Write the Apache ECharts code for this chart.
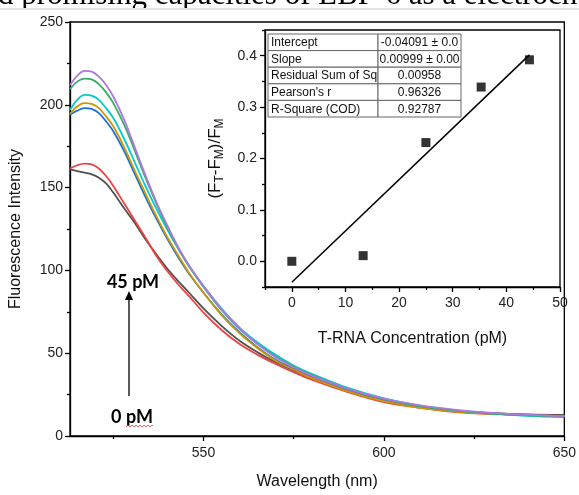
<!DOCTYPE html>
<html>
<head>
<meta charset="utf-8">
<style>
  html, body { margin: 0; padding: 0; background: #fff; }
  #chart { width: 579px; height: 495px; }
</style>
<script src="https://cdn.jsdelivr.net/npm/echarts@6/dist/echarts.min.js"></script>
</head>
<body>
<div id="chart"></div>
<script>
// Emission spectra, sampled wavelengths (nm)
const wavelengths = [513, 515, 517, 519, 521, 523, 525, 528, 531, 534, 537, 540, 543, 546, 550, 555, 560, 565, 570, 575, 580, 590, 600, 610, 620, 630, 640, 650];

// Fluorescence intensity, one array per T-RNA concentration (low -> high)
const spectrum0  = [161, 160, 159, 158, 156, 152.5, 147, 137.5, 128.5, 118.5, 109.5, 101, 93.5, 86.5, 77, 66.5, 57.5, 50.5, 44.5, 39.5, 35.2, 27.5, 21.5, 17.5, 15, 13.8, 13.1, 12.8];
const spectrum1  = [161.5, 163.5, 164.5, 164, 161.5, 157, 151, 140.5, 130, 119.5, 108.5, 99.5, 91.5, 84.5, 74.5, 64, 55.5, 49, 43.5, 38.5, 34, 26.5, 20.5, 17, 14.5, 13.3, 12.6, 12.2];
const spectrum2  = [194, 196.5, 198, 197.5, 195, 190, 184, 172, 158, 144, 131, 119, 108, 98, 86.5, 73.5, 62.5, 53.5, 46, 40.5, 35.5, 27.5, 21.5, 17.5, 15, 13.5, 12.6, 12];
const spectrum3  = [194.5, 199, 201, 200.5, 198, 193, 187, 174.5, 160, 146, 132.5, 120, 109, 98.5, 86.5, 73, 62, 53, 45.5, 40, 35, 27, 21, 17, 14.8, 13.3, 12.5, 12];
const spectrum4  = [197, 203, 206, 205.5, 203, 198, 192, 179.5, 165, 150.5, 137, 124.5, 113, 102.5, 90.5, 77, 65.5, 56.5, 49, 42.5, 37.5, 29, 22.7, 18.3, 15.5, 13.5, 12.2, 11.4];
const spectrum5  = [209.5, 214, 215.8, 215.3, 212.5, 207.5, 201, 188, 172, 155.5, 140, 126, 113.5, 102.5, 90, 76, 64.5, 55.5, 48, 42, 37, 28.5, 22.3, 18, 15.3, 13.5, 12.4, 11.8];
const spectrum6  = [212, 217.5, 220.5, 220, 217, 212, 205, 191, 174, 157, 141, 127, 114, 103, 90.5, 76.5, 65, 55.5, 47.5, 41.5, 36.5, 28.5, 22.5, 18.5, 15.8, 14, 12.8, 12];
const spectra = [spectrum0, spectrum1, spectrum2, spectrum3, spectrum4, spectrum5, spectrum6];
const spectrumColors = ['#515151', '#F14040', '#1A6FDF', '#CC9900', '#00CBCC', '#37AD6B', '#B177DE'];

// Calibration: relative change vs. T-RNA concentration
const concentrations = [0, 13.3, 25, 35.3, 44.3];
const responses = [0.0, 0.011, 0.231, 0.339, 0.392];

// Linear fit results
const fitIntercept = -0.04091;
const fitSlope = 0.00999;
const fitRange = [0, 44.3];
const tableLabels = ['Intercept', 'Slope', 'Residual Sum of Sq', "Pearson's r", 'R-Square (COD)'];
const tableValues = ['-0.04091 \u00b1 0.0', '0.00999 \u00b1 0.00', '0.00958', '0.96326', '0.92787'];

// Tick labels
const mainXTicks = [550, 600, 650];
const mainXMinor = [525, 575, 625];
const insetXTicks = [0, 10, 20, 30, 40, 50];
const insetXMinor = [-5, 5, 15, 25, 35, 45];
const insetYTicks = [0, 0.1, 0.2, 0.3, 0.4];
const insetYMinor = [-0.05, 0.05, 0.15, 0.25, 0.35, 0.45];

const FONT = 'Liberation Sans, Arial, sans-serif';
const chart = echarts.init(document.getElementById('chart'), null, { renderer: 'canvas' });

const axisLineStyle = { color: '#000', width: 1.3 };
function valueAxis(extra) {
  return Object.assign({
    type: 'value',
    splitLine: { show: false },
    axisLine: { show: true, onZero: false, lineStyle: axisLineStyle },
    axisTick: { show: true, length: 5, lineStyle: axisLineStyle },
    axisLabel: { color: '#222', fontSize: 14, fontFamily: FONT, margin: 7 },
    nameTextStyle: { color: '#111', fontSize: 16, fontFamily: FONT }
  }, extra);
}
function minorAxis(extra, values) {
  return Object.assign({
    type: 'value',
    splitLine: { show: false },
    axisLine: { show: false, onZero: false },
    axisTick: { show: true, length: 3, customValues: values, lineStyle: axisLineStyle },
    axisLabel: { show: false }
  }, extra);
}

// Table cells for the fit summary
const tableLeft = 268, tableTop = 34, rowH = 16.6, col1W = 110, col2W = 83;
const tableGraphics = [];
tableLabels.forEach((label, i) => {
  const y = tableTop + i * rowH;
  tableGraphics.push({
    type: 'rect', shape: { x: tableLeft, y: y, width: col1W, height: rowH },
    style: { fill: '#fff', stroke: '#666', lineWidth: 1 }, z: 10
  });
  tableGraphics.push({
    type: 'rect', shape: { x: tableLeft + col1W, y: y, width: col2W, height: rowH },
    style: { fill: '#fff', stroke: '#666', lineWidth: 1 }, z: 10
  });
  tableGraphics.push({
    type: 'text', x: tableLeft + 3, y: y + rowH / 2 + 0.5, z: 11,
    style: { text: label, fill: '#111', font: '12px ' + FONT, textAlign: 'left', textVerticalAlign: 'middle' }
  });
  tableGraphics.push({
    type: 'text', x: tableLeft + col1W + col2W / 2, y: y + rowH / 2 + 0.5, z: 11,
    style: { text: tableValues[i], fill: '#111', font: '12px ' + FONT, textAlign: 'center', textVerticalAlign: 'middle' }
  });
});

const option = {
  animation: false,
  backgroundColor: '#fff',
  grid: [
    { left: 69, right: 12, top: 22, bottom: 54, show: true, borderColor: '#000', borderWidth: 1.3, containLabel: false },
    { left: 265, top: 30, width: 295, height: 257, show: true, borderColor: '#000', borderWidth: 1.3, containLabel: false }
  ],
  xAxis: [
    valueAxis({
      gridIndex: 0, min: 513, max: 650,
      axisTick: { show: true, length: 5, customValues: mainXTicks, lineStyle: axisLineStyle },
      axisLabel: { color: '#222', fontSize: 14, fontFamily: FONT, margin: 10, customValues: mainXTicks },
      name: 'Wavelength (nm)', nameLocation: 'middle', nameGap: 38
    }),
    minorAxis({ gridIndex: 0, min: 513, max: 650, position: 'bottom' }, mainXMinor),
    valueAxis({
      gridIndex: 1, min: -5, max: 50,
      axisTick: { show: true, length: 5, customValues: insetXTicks, lineStyle: axisLineStyle },
      axisLabel: { color: '#222', fontSize: 14, fontFamily: FONT, margin: 9, customValues: insetXTicks },
      name: 'T-RNA Concentration (pM)', nameLocation: 'middle', nameGap: 44
    }),
    minorAxis({ gridIndex: 1, min: -5, max: 50, position: 'bottom' }, insetXMinor)
  ],
  yAxis: [
    valueAxis({
      gridIndex: 0, min: 0, max: 250, interval: 50,
      minorTick: { show: true, splitNumber: 2, length: 3, lineStyle: axisLineStyle },
      name: 'Fluorescence Intensity', nameLocation: 'middle', nameGap: 46
    }),
    valueAxis({
      gridIndex: 1, min: -0.05, max: 0.45,
      axisTick: { show: true, length: 5, customValues: insetYTicks, lineStyle: axisLineStyle },
      axisLabel: {
        color: '#222', fontSize: 14, fontFamily: FONT, margin: 8, customValues: insetYTicks,
        formatter: v => v.toFixed(1)
      },
      name: '(F{s|T}-F{s|M})/F{s|M}', nameLocation: 'middle', nameGap: 37, nameRotate: 90,
      nameTextStyle: {
        color: '#111', fontSize: 17, fontFamily: FONT, lineHeight: 22,
        rich: { s: { fontSize: 12, fontFamily: FONT, color: '#111', lineHeight: 22, padding: [8, 0, 0, 0] } }
      }
    }),
    minorAxis({ gridIndex: 1, min: -0.05, max: 0.45, position: 'left' }, insetYMinor)
  ],
  series: [
    ...spectra.map((vals, i) => ({
      type: 'line', xAxisIndex: 0, yAxisIndex: 0,
      data: wavelengths.map((w, j) => [w, vals[j]]),
      smooth: 0.35, showSymbol: false,
      lineStyle: { color: spectrumColors[i], width: 1.8 },
      z: 2
    })),
    {
      type: 'line', xAxisIndex: 2, yAxisIndex: 1,
      data: fitRange.map(x => [x, fitIntercept + fitSlope * x]),
      showSymbol: false,
      lineStyle: { color: '#000', width: 1.5 },
      z: 3
    },
    {
      type: 'scatter', xAxisIndex: 2, yAxisIndex: 1,
      data: concentrations.map((c, i) => [c, responses[i]]),
      symbol: 'rect', symbolSize: 9,
      itemStyle: { color: '#000' },
      z: 4
    }
  ],
  graphic: [
    // running page text above the figure
    {
      type: 'text', x: -2, y: 11, z: 20,
      style: { text: 'd promising capacities of LBP-6 as a electroche', fill: '#000', font: '31px Liberation Serif, serif', textVerticalAlign: 'bottom' }
    },
    {
      type: 'rect', shape: { x: 0, y: 8, width: 579, height: 2 }, z: 21,
      style: { fill: '#e4e4e4' }
    },
    {
      type: 'rect', shape: { x: 0, y: 10, width: 579, height: 3 }, z: 21,
      style: { fill: '#fff' }
    },
    // concentration arrow
    {
      type: 'line', shape: { x1: 129, y1: 396, x2: 129, y2: 298 }, z: 12,
      style: { stroke: '#000', lineWidth: 1.3 }
    },
    {
      type: 'polygon', shape: { points: [[129, 291], [125, 300], [133, 300]] }, z: 12,
      style: { fill: '#000' }
    },
    {
      type: 'text', x: 133, y: 282, z: 12,
      style: { text: '45 pM', fill: '#000', font: 'bold 18px Lato, sans-serif', textAlign: 'center', textVerticalAlign: 'middle' }
    },
    {
      type: 'text', x: 132, y: 417, z: 12,
      style: { text: '0 pM', fill: '#000', font: 'bold 18px Lato, sans-serif', textAlign: 'center', textVerticalAlign: 'middle' }
    },
    {
      type: 'polyline', z: 12,
      shape: { points: [[126, 427], [128, 425], [130, 427], [132, 425], [134, 427], [136, 425], [138, 427], [140, 425], [142, 427], [144, 425], [146, 427], [148, 425], [150, 427], [152, 425], [153, 426]] },
      style: { stroke: '#e03030', lineWidth: 0.8, fill: null }
    },
    ...tableGraphics
  ]
};
chart.setOption(option);
</script>
</body>
</html>
